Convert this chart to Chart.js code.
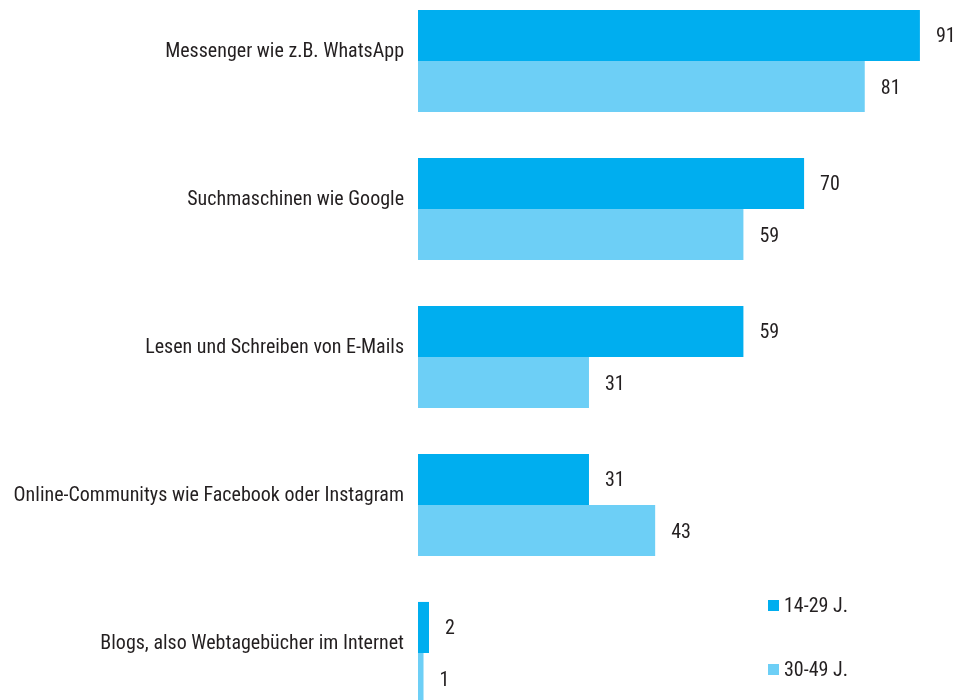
<!DOCTYPE html>
<html>
<head>
<meta charset="utf-8">
<script src="https://cdn.jsdelivr.net/npm/chart.js@4"></script>
<style>
  html, body { margin: 0; padding: 0; background: #fff; overflow: hidden; }
  #wrap { position: absolute; left: 0; top: -13px; width: 957px; height: 740px; }
</style>
</head>
<body>
<div id="wrap"><canvas id="nutzung"></canvas></div>
<script>
const categories = [
  'Messenger wie z.B. WhatsApp',
  'Suchmaschinen wie Google',
  'Lesen und Schreiben von E-Mails',
  'Online-Communitys wie Facebook oder Instagram',
  'Blogs, also Webtagebücher im Internet'
];
const seriesNames = ['14-29 J.', '30-49 J.'];
const young = [91, 70, 59, 31, 2];
const older = [81, 59, 31, 43, 1];

const FONT = '"Roboto Condensed", "Open Sans Condensed", sans-serif';
const TEXT = '#231f20';

// value labels next to each bar
const valueLabels = {
  id: 'valueLabels',
  afterDatasetsDraw: (chart) => {
    const ctx = chart.ctx;
    ctx.save();
    ctx.font = '20px ' + FONT;
    ctx.fillStyle = TEXT;
    ctx.textAlign = 'left';
    ctx.textBaseline = 'middle';
    chart.data.datasets.forEach((ds, i) => {
      chart.getDatasetMeta(i).data.forEach((bar, j) => {
        ctx.fillText(ds.data[j], bar.x + 16, bar.y + 2);
      });
    });
    ctx.restore();
  }
};

// legend in the lower right corner
const cornerLegend = {
  id: 'cornerLegend',
  afterDraw: (chart) => {
    const ctx = chart.ctx;
    ctx.save();
    ctx.font = '20px ' + FONT;
    ctx.textAlign = 'left';
    ctx.textBaseline = 'middle';
    chart.data.datasets.forEach((ds, i) => {
      const y = 619 + i * 64;
      ctx.fillStyle = ds.backgroundColor;
      ctx.fillRect(768, y - 6, 11, 11);
      ctx.fillStyle = TEXT;
      ctx.fillText(ds.label, 784, y + 1);
    });
    ctx.restore();
  }
};

new Chart(document.getElementById('nutzung'), {
  type: 'bar',
  data: {
    labels: categories,
    datasets: [
      { label: seriesNames[0], data: young, backgroundColor: '#00aeef' },
      { label: seriesNames[1], data: older, backgroundColor: '#6dcff6' }
    ]
  },
  options: {
    indexAxis: 'y',
    responsive: true,
    maintainAspectRatio: false,
    animation: false,
    layout: { padding: { top: 0, bottom: 0, left: 0, right: 4 } },
    datasets: { bar: { barPercentage: 1, categoryPercentage: 0.69 } },
    scales: {
      x: { display: false, min: 0, max: 97 },
      y: {
        afterFit: (scale) => {
          scale.width = 418;
          scale.paddingTop = 0;
          scale.paddingBottom = 0;
        },
        grid: { display: false, drawTicks: false },
        border: { display: false },
        ticks: {
          color: TEXT,
          font: { family: FONT, size: 20 },
          padding: 14,
          labelOffset: -9
        }
      }
    },
    plugins: {
      legend: { display: false },
      tooltip: { enabled: false }
    }
  },
  plugins: [valueLabels, cornerLegend]
});
</script>
</body>
</html>
